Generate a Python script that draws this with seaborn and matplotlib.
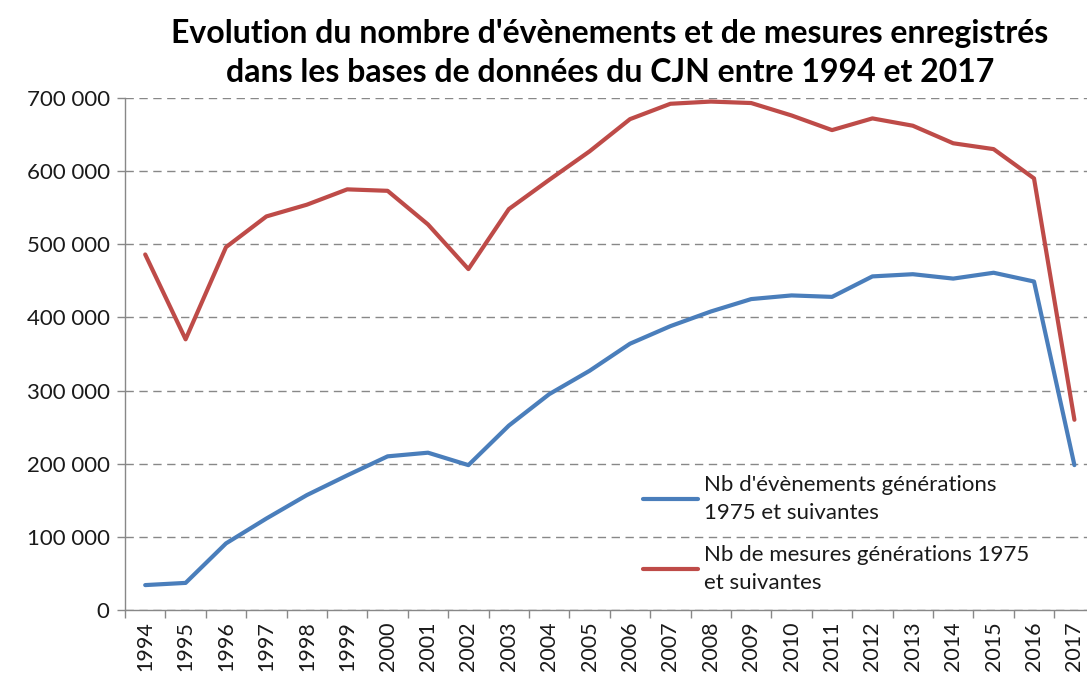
import matplotlib
matplotlib.use("Agg")
import numpy as np
import pandas as pd
import matplotlib.pyplot as plt
import seaborn as sns
from matplotlib.ticker import FuncFormatter

annees = [1994, 1995, 1996, 1997, 1998, 1999, 2000, 2001, 2002, 2003, 2004, 2005,
          2006, 2007, 2008, 2009, 2010, 2011, 2012, 2013, 2014, 2015, 2016, 2017]
evenements = [34000, 37000, 91000, 125000, 157000, 184000, 210000, 215000, 198000, 252000, 295000, 327000,
              364000, 388000, 408000, 425000, 430000, 428000, 456000, 459000, 453000, 461000, 449000, 198000]
mesures = [486000, 370000, 496000, 538000, 554000, 575000, 573000, 527000, 466000, 548000, 588000, 627000,
           671000, 692000, 695000, 693000, 676000, 656000, 672000, 662000, 638000, 630000, 590000, 260000]
series = ["Nb d'évènements générations\n1975 et suivantes",
          "Nb de mesures générations 1975\net suivantes"]
couleurs = ["#4A7EBB", "#BE4B48"]
titre = "Evolution du nombre d'évènements et de mesures enregistrés\ndans les bases de données du CJN entre 1994 et 2017"

sns.set_theme(style="white")
plt.rcParams['font.family'] = ['Lato', 'DejaVu Sans']

df = pd.DataFrame({"annee": annees, series[0]: evenements, series[1]: mesures})
df = df.melt(id_vars="annee", var_name="serie", value_name="valeur")

fig = plt.figure(figsize=(10.87, 6.8), dpi=100)
ax = fig.add_axes([0.115, 0.103, 0.892, 0.753])

sns.lineplot(data=df, x="annee", y="valeur", hue="serie", palette=couleurs,
             linewidth=3, ax=ax)

# axes
ax.set_xlim(annees[0] - 0.5, annees[-1] + 0.5)
ax.set_ylim(0, 700000)
ax.set_xticks(annees)
ax.set_xticklabels([str(a) for a in annees], rotation=90)
ax.set_xticks(np.arange(annees[0] - 0.5, annees[-1] + 1, 1), minor=True)
ax.tick_params(axis="x", which="major", length=0, pad=8, labelsize=15.5, labelcolor="#1a1a1a")
ax.tick_params(axis="x", which="minor", length=6, width=1, color="#888888", direction="out", bottom=True)
ax.set_yticks(np.arange(0, 700001, 100000))
ax.yaxis.set_major_formatter(FuncFormatter(lambda v, p: f"{int(v):,}".replace(",", " ")))
ax.tick_params(axis="y", length=6, width=1, color="#888888", direction="out", left=True,
               labelsize=16, labelcolor="#1a1a1a", pad=5)
ax.set_xlabel("")
ax.set_ylabel("")

ax.yaxis.grid(True, linestyle=(0, (6, 4)), color="#888888", linewidth=1)
ax.set_axisbelow(True)
for s in ["top", "right"]:
    ax.spines[s].set_visible(False)
for s in ["left", "bottom"]:
    ax.spines[s].set_color("#888888")
    ax.spines[s].set_linewidth(1)

# legende
handles, labels = ax.get_legend_handles_labels()
leg = ax.legend(handles, labels, loc="upper left", bbox_to_anchor=(0.581, 0.318),
                bbox_transform=fig.transFigure, frameon=False, fontsize=16,
                handlelength=2.5, handletextpad=0.25, labelspacing=1.0, borderpad=0)
for t in leg.get_texts():
    t.set_linespacing(1.5)
    t.set_color("#1a1a1a")

fig.text(0.561, 0.922, titre, ha="center", va="center", fontsize=23, fontweight="bold",
         linespacing=1.45, color="black")

fig.savefig("out.png", dpi=100)
